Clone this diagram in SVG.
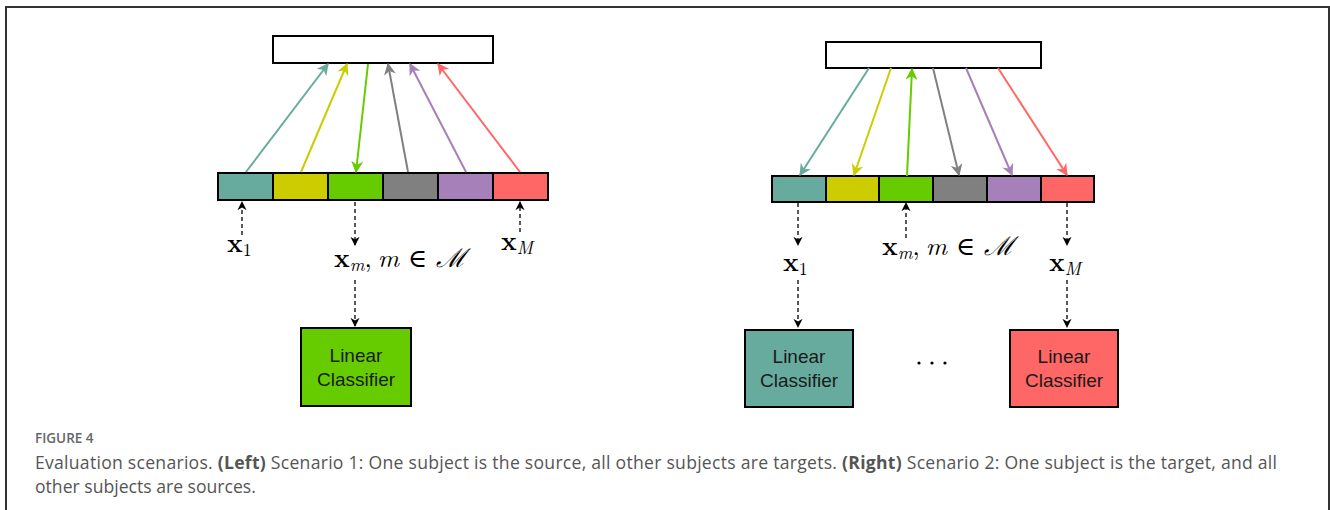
<svg xmlns="http://www.w3.org/2000/svg" width="1330" height="510" viewBox="0 0 1330 510">
  <defs>
    <style>
      .frame { stroke: #333; stroke-width: 2; fill: none; }
      .box { fill: #fff; stroke: #000; stroke-width: 2; }
      .cell { stroke: #000; stroke-width: 2; }
      .clf { stroke: #000; stroke-width: 2; }
      .clf-text { font-family: "Liberation Sans", Arial, sans-serif; font-size: 19px; fill: #1a1a1a; text-anchor: middle; }
      .dash { stroke: #000; stroke-width: 1.3; stroke-dasharray: 4 3; fill: none; }
      .math { font-family: "Latin Modern Roman", "DejaVu Serif", "Liberation Serif", serif; font-size: 26px; fill: #000; }
      .mb { font-weight: bold; }
      .mi { font-style: italic; }
      .cap-head { font-family: "Open Sans", "Noto Sans", sans-serif; font-size: 13.5px; font-weight: 600; fill: #666; }
      .cap { font-family: "Open Sans", "Noto Sans", sans-serif; font-size: 17.6px; fill: #555; }
      .teal { stroke: #67AB9F; }
      .yel { stroke: #CCCC00; }
      .grn { stroke: #66CC00; }
      .gry { stroke: #808080; }
      .pur { stroke: #A680B8; }
      .red { stroke: #FF6666; }
      .link { stroke-width: 2; fill: none; }
    </style>
    <marker id="ah-teal" viewBox="0 0 10 10" refX="9" refY="5" markerWidth="6" markerHeight="6" orient="auto"><path d="M0,0 L10,5 L0,10 L3,5 Z" fill="#67AB9F"/></marker>
    <marker id="ah-yel" viewBox="0 0 10 10" refX="9" refY="5" markerWidth="6" markerHeight="6" orient="auto"><path d="M0,0 L10,5 L0,10 L3,5 Z" fill="#CCCC00"/></marker>
    <marker id="ah-grn" viewBox="0 0 10 10" refX="9" refY="5" markerWidth="6" markerHeight="6" orient="auto"><path d="M0,0 L10,5 L0,10 L3,5 Z" fill="#66CC00"/></marker>
    <marker id="ah-gry" viewBox="0 0 10 10" refX="9" refY="5" markerWidth="6" markerHeight="6" orient="auto"><path d="M0,0 L10,5 L0,10 L3,5 Z" fill="#808080"/></marker>
    <marker id="ah-pur" viewBox="0 0 10 10" refX="9" refY="5" markerWidth="6" markerHeight="6" orient="auto"><path d="M0,0 L10,5 L0,10 L3,5 Z" fill="#A680B8"/></marker>
    <marker id="ah-red" viewBox="0 0 10 10" refX="9" refY="5" markerWidth="6" markerHeight="6" orient="auto"><path d="M0,0 L10,5 L0,10 L3,5 Z" fill="#FF6666"/></marker>
    <marker id="ah-blk" viewBox="0 0 10 10" refX="9" refY="5" markerWidth="7" markerHeight="7" orient="auto"><path d="M0,0 L10,5 L0,10 L3,5 Z" fill="#000"/></marker>
  </defs>

  <rect width="1330" height="510" fill="#fff"/>
  <!-- figure frame: top, left and right rules -->
  <path class="frame" d="M6,510 L6,7 L1329,7 L1329,510"/>

  <!-- ===== Scenario 1 (left) ===== -->
  <g id="s1-target">
    <rect class="box" x="273" y="36" width="220" height="27"/>
  </g>
  <g id="s1-bar">
    <rect class="cell" x="218" y="173" width="55" height="27" fill="#67AB9F"/>
    <rect class="cell" x="273" y="173" width="55" height="27" fill="#CCCC00"/>
    <rect class="cell" x="328" y="173" width="55" height="27" fill="#66CC00"/>
    <rect class="cell" x="383" y="173" width="55" height="27" fill="#808080"/>
    <rect class="cell" x="438" y="173" width="55" height="27" fill="#A680B8"/>
    <rect class="cell" x="493" y="173" width="55" height="27" fill="#FF6666"/>
  </g>
  <g id="s1-classifier">
    <rect class="clf" x="301" y="328" width="110" height="78" fill="#66CC00"/>
    <text class="clf-text" x="356" y="362">Linear</text>
    <text class="clf-text" x="356" y="386">Classifier</text>
  </g>
  <g id="s1-labels">
    <text class="math" x="227" y="252"><tspan class="mb">x</tspan><tspan font-size="18" dy="4">1</tspan></text>
    <text class="math" x="334" y="267"><tspan class="mb">x</tspan><tspan class="mi" font-size="18" dy="4">m</tspan><tspan dy="-4">,</tspan><tspan class="mi" dx="6">m</tspan> ∈ <tspan class="mi">ℳ</tspan></text>
    <text class="math" x="501" y="250"><tspan class="mb">x</tspan><tspan class="mi" font-size="18" dy="4">M</tspan></text>
  </g>

  <!-- ===== Scenario 2 (right) ===== -->
  <g id="s2-source">
    <rect class="box" x="826" y="42" width="215" height="26"/>
  </g>
  <g id="s2-bar">
    <rect class="cell" x="772" y="176" width="54" height="26" fill="#67AB9F"/>
    <rect class="cell" x="826" y="176" width="53" height="26" fill="#CCCC00"/>
    <rect class="cell" x="879" y="176" width="54" height="26" fill="#66CC00"/>
    <rect class="cell" x="933" y="176" width="54" height="26" fill="#808080"/>
    <rect class="cell" x="987" y="176" width="54" height="26" fill="#A680B8"/>
    <rect class="cell" x="1041" y="176" width="53" height="26" fill="#FF6666"/>
  </g>
  <g id="s2-classifier-1">
    <rect class="clf" x="745" y="330" width="108" height="77" fill="#67AB9F"/>
    <text class="clf-text" x="799" y="363">Linear</text>
    <text class="clf-text" x="799" y="387">Classifier</text>
  </g>
  <g id="s2-classifier-M">
    <rect class="clf" x="1010" y="330" width="108" height="77" fill="#FF6666"/>
    <text class="clf-text" x="1064" y="363">Linear</text>
    <text class="clf-text" x="1064" y="387">Classifier</text>
  </g>
  <g id="s2-ellipsis">
    <circle cx="919" cy="363" r="1.6" fill="#000"/>
    <circle cx="932" cy="363" r="1.6" fill="#000"/>
    <circle cx="945" cy="363" r="1.6" fill="#000"/>
  </g>
  <g id="s2-labels">
    <text class="math" x="783" y="271"><tspan class="mb">x</tspan><tspan font-size="18" dy="4">1</tspan></text>
    <text class="math" x="882" y="255"><tspan class="mb">x</tspan><tspan class="mi" font-size="18" dy="4">m</tspan><tspan dy="-4">,</tspan><tspan class="mi" dx="6">m</tspan> ∈ <tspan class="mi">ℳ</tspan></text>
    <text class="math" x="1049" y="271"><tspan class="mb">x</tspan><tspan class="mi" font-size="18" dy="4">M</tspan></text>
  </g>

  <!-- ===== connectors ===== -->
  <g id="connectors">
    <!-- scenario 1: bar to target -->
    <line class="link teal" x1="246" y1="172" x2="328" y2="64" marker-end="url(#ah-teal)"/>
    <line class="link yel" x1="301" y1="172" x2="347" y2="64" marker-end="url(#ah-yel)"/>
    <line class="link grn" x1="368" y1="64" x2="356" y2="172" marker-end="url(#ah-grn)"/>
    <line class="link gry" x1="408" y1="172" x2="388" y2="64" marker-end="url(#ah-gry)"/>
    <line class="link pur" x1="466" y1="172" x2="410" y2="64" marker-end="url(#ah-pur)"/>
    <line class="link red" x1="520" y1="172" x2="438" y2="64" marker-end="url(#ah-red)"/>
    <!-- scenario 1: dashed -->
    <line class="dash" x1="242" y1="235" x2="242" y2="202" marker-end="url(#ah-blk)"/>
    <line class="dash" x1="355" y1="202" x2="355" y2="245" marker-end="url(#ah-blk)"/>
    <line class="dash" x1="355" y1="280" x2="355" y2="326" marker-end="url(#ah-blk)"/>
    <line class="dash" x1="520" y1="232" x2="520" y2="202" marker-end="url(#ah-blk)"/>

    <!-- scenario 2: source to bar -->
    <line class="link teal" x1="869" y1="68" x2="800" y2="175" marker-end="url(#ah-teal)"/>
    <line class="link yel" x1="891" y1="68" x2="854" y2="175" marker-end="url(#ah-yel)"/>
    <line class="link grn" x1="907" y1="176" x2="912" y2="69" marker-end="url(#ah-grn)"/>
    <line class="link gry" x1="933" y1="68" x2="959" y2="175" marker-end="url(#ah-gry)"/>
    <line class="link pur" x1="966" y1="68" x2="1012" y2="175" marker-end="url(#ah-pur)"/>
    <line class="link red" x1="998" y1="68" x2="1067" y2="175" marker-end="url(#ah-red)"/>
    <!-- scenario 2: dashed -->
    <line class="dash" x1="798" y1="203" x2="798" y2="245" marker-end="url(#ah-blk)"/>
    <line class="dash" x1="798" y1="280" x2="798" y2="327" marker-end="url(#ah-blk)"/>
    <line class="dash" x1="906" y1="238" x2="906" y2="203" marker-end="url(#ah-blk)"/>
    <line class="dash" x1="1067" y1="203" x2="1067" y2="245" marker-end="url(#ah-blk)"/>
    <line class="dash" x1="1067" y1="280" x2="1067" y2="327" marker-end="url(#ah-blk)"/>
  </g>

  <!-- caption -->
  <g id="caption">
    <text class="cap-head" x="35" y="443">FIGURE 4</text>
    <text class="cap" x="35" y="469" textLength="1242" lengthAdjust="spacing">Evaluation scenarios. <tspan font-weight="bold">(Left)</tspan> Scenario 1: One subject is the source, all other subjects are targets. <tspan font-weight="bold">(Right)</tspan> Scenario 2: One subject is the target, and all</text>
    <text class="cap" x="35" y="493">other subjects are sources.</text>
  </g>
</svg>
